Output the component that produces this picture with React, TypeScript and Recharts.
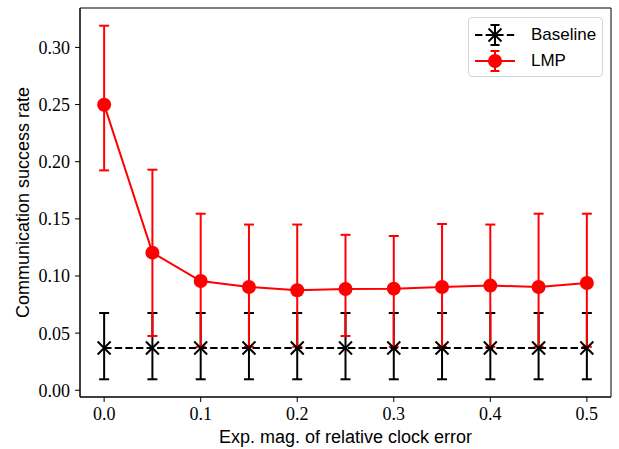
import { ComposedChart, Line, XAxis, YAxis, ErrorBar, ReferenceArea, Legend } from "recharts"

const clockError = [0, 0.05, 0.1, 0.15, 0.2, 0.25, 0.3, 0.35, 0.4, 0.45, 0.5]

const baselineMean = [0.037, 0.037, 0.037, 0.037, 0.037, 0.037, 0.037, 0.037, 0.037, 0.037, 0.037]
const baselineLow = [0.0096, 0.0096, 0.0096, 0.0096, 0.0096, 0.0096, 0.0096, 0.0096, 0.0096, 0.0096, 0.0096]
const baselineHigh = [0.0676, 0.0676, 0.0676, 0.0676, 0.0676, 0.0676, 0.0676, 0.0676, 0.0676, 0.0676, 0.0676]

const lmpMean = [0.2499, 0.1204, 0.0956, 0.0904, 0.0875, 0.0886, 0.0889, 0.0904, 0.0916, 0.0904, 0.0939]
const lmpLow = [0.1924, 0.0475, 0.038, 0.038, 0.038, 0.0475, 0.038, 0.038, 0.038, 0.038, 0.038]
const lmpHigh = [0.319, 0.193, 0.1545, 0.145, 0.145, 0.136, 0.135, 0.1455, 0.145, 0.1545, 0.1545]

const xTicks = [0, 0.1, 0.2, 0.3, 0.4, 0.5]
const yTicks = [0, 0.05, 0.1, 0.15, 0.2, 0.25, 0.3]

const X_DOMAIN: [number, number] = [-0.025, 0.525]
const Y_DOMAIN: [number, number] = [-0.0059, 0.3345]

const data = clockError.map((x, i) => ({
  x,
  baseline: baselineMean[i],
  baselineErr: [baselineMean[i] - baselineLow[i], baselineHigh[i] - baselineMean[i]],
  lmp: lmpMean[i],
  lmpErr: [lmpMean[i] - lmpLow[i], lmpHigh[i] - lmpMean[i]],
}))

const serif = { fontFamily: "'Liberation Serif', serif", fontSize: 18, fill: "#000" }
const sans = "'Liberation Sans', Arial, sans-serif"
const LW = 2

function XMark(props: any) {
  const { cx, cy } = props
  if (cx == null || cy == null) return <g key={props.key} />
  const s = 6.5
  return (
    <g key={props.key}>
      <line x1={cx - s} y1={cy - s} x2={cx + s} y2={cy + s} stroke="#000" strokeWidth={LW} />
      <line x1={cx - s} y1={cy + s} x2={cx + s} y2={cy - s} stroke="#000" strokeWidth={LW} />
    </g>
  )
}

function Handle({ kind }: { kind: "baseline" | "lmp" }) {
  const color = kind === "baseline" ? "#000" : "#ff0000"
  return (
    <svg width={40} height={24} style={{ display: "block" }}>
      <line x1={0} y1={12} x2={40} y2={12} stroke={color} strokeWidth={LW}
        strokeDasharray={kind === "baseline" ? "7.4 3.2" : undefined} />
      <line x1={20} y1={2} x2={20} y2={22} stroke={color} strokeWidth={LW} />
      <line x1={15.5} y1={2} x2={24.5} y2={2} stroke={color} strokeWidth={LW} />
      <line x1={15.5} y1={22} x2={24.5} y2={22} stroke={color} strokeWidth={LW} />
      {kind === "baseline" ? (
        <g>
          <line x1={13.5} y1={5.5} x2={26.5} y2={18.5} stroke="#000" strokeWidth={LW} />
          <line x1={13.5} y1={18.5} x2={26.5} y2={5.5} stroke="#000" strokeWidth={LW} />
        </g>
      ) : (
        <circle cx={20} cy={12} r={7} fill="#ff0000" />
      )}
    </svg>
  )
}

function LegendBox() {
  const rows: { kind: "baseline" | "lmp"; label: string }[] = [
    { kind: "baseline", label: "Baseline" },
    { kind: "lmp", label: "LMP" },
  ]
  return (
    <div
      style={{
        width: 135,
        height: 60,
        boxSizing: "border-box",
        border: "1px solid #d5d5d5",
        borderRadius: 4,
        background: "rgba(255,255,255,0.8)",
        padding: "4px 0 0 6px",
      }}
    >
      {rows.map((r) => (
        <div key={r.kind} style={{ display: "flex", alignItems: "center", height: 26 }}>
          <Handle kind={r.kind} />
          <span style={{ fontFamily: sans, fontSize: 17, marginLeft: 16, color: "#000" }}>{r.label}</span>
        </div>
      ))}
    </div>
  )
}

export default function App() {
  return (
    <div style={{ position: "absolute", left: 0, top: 0, background: "#fff" }}>
      <ComposedChart width={619} height={449} data={data} margin={{ top: 8, right: 8, bottom: 0, left: 0 }}>
        <XAxis
          dataKey="x"
          type="number"
          domain={X_DOMAIN}
          ticks={xTicks}
          allowDataOverflow
          tickFormatter={(v: number) => v.toFixed(1)}
          tick={serif}
          tickSize={5}
          tickMargin={5}
          height={52}
          stroke="#000"
          label={{ value: "Exp. mag. of relative clock error", position: "insideBottom", offset: 6, style: { fontFamily: sans, fontSize: 18, fill: "#000" } }}
        />
        <YAxis
          type="number"
          domain={Y_DOMAIN}
          ticks={yTicks}
          allowDataOverflow
          tickFormatter={(v: number) => v.toFixed(2)}
          tick={serif}
          tickSize={5}
          tickMargin={5}
          width={80}
          stroke="#000"
          label={{ value: "Communication success rate", angle: -90, position: "insideLeft", offset: 23, textAnchor: "middle", style: { fontFamily: sans, fontSize: 18, fill: "#000" } }}
        />
        <ReferenceArea x1={X_DOMAIN[0]} x2={X_DOMAIN[1]} y1={Y_DOMAIN[0]} y2={Y_DOMAIN[1]} fill="none" stroke="#000" strokeWidth={1} ifOverflow="extendDomain" />
        {/* error bars first so markers of both series sit on top */}
        <Line dataKey="baseline" stroke="none" dot={false} activeDot={false} isAnimationActive={false} legendType="none">
          <ErrorBar dataKey="baselineErr" direction="y" width={5} stroke="#000" strokeWidth={LW} />
        </Line>
        <Line dataKey="lmp" stroke="none" dot={false} activeDot={false} isAnimationActive={false} legendType="none">
          <ErrorBar dataKey="lmpErr" direction="y" width={5} stroke="#ff0000" strokeWidth={LW} />
        </Line>
        <Line dataKey="baseline" type="linear" stroke="#000" strokeWidth={LW} strokeDasharray="7.4 3.2" dot={XMark} activeDot={false} isAnimationActive={false} />
        <Line dataKey="lmp" type="linear" stroke="#ff0000" strokeWidth={LW} dot={{ r: 7, fill: "#ff0000", stroke: "none" }} activeDot={false} isAnimationActive={false} />
        <Legend
          layout="horizontal"
          verticalAlign="middle"
          align="center"
          wrapperStyle={{ top: 17, left: 468, width: 135, height: 60 }}
          content={() => <LegendBox />}
        />
      </ComposedChart>
    </div>
  )
}
